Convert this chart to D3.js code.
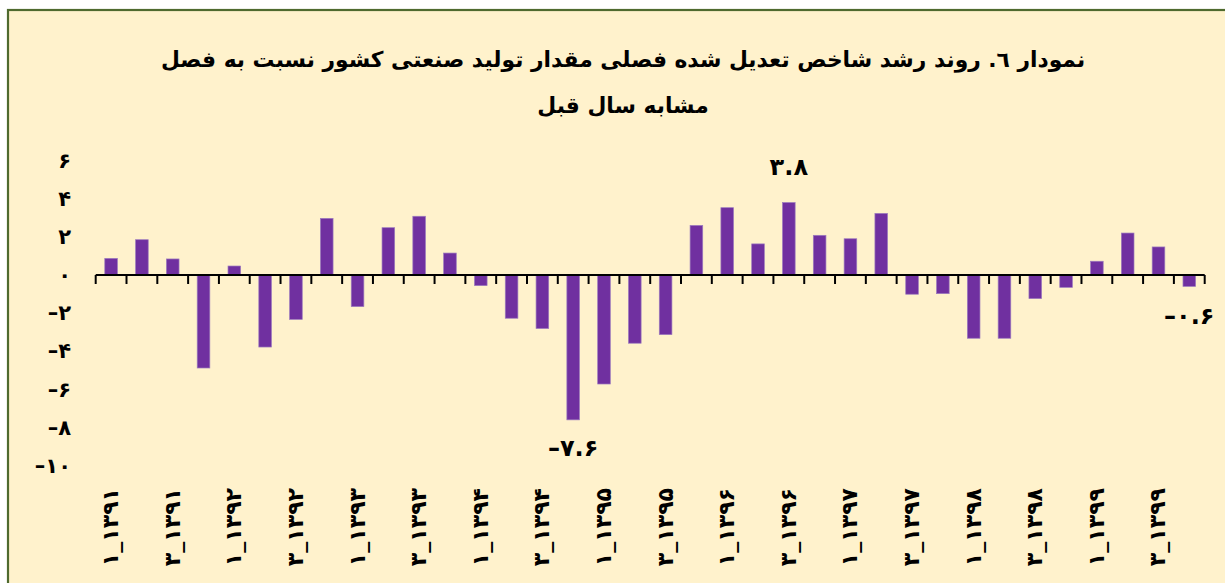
<!DOCTYPE html>
<html><head><meta charset="utf-8">
<script src="https://cdn.jsdelivr.net/npm/d3@7"></script>
<style>
html,body{margin:0;padding:0;background:#fff;}
svg{display:block;}
</style></head>
<body>
<svg id="chart" width="1225" height="583"></svg>
<script>
// ---- data ----
const years = ["1391","1392","1393","1394","1395","1396","1397","1398","1399"];
const quarters = ["1","2","3","4"];
const categories = years.flatMap(y => quarters.map(q => q + "_" + y));
const values = [
  0.87, 1.85, 0.84, -4.88,
  0.47, -3.78, -2.33, 2.97,
  -1.66, 2.48, 3.08, 1.15,
  -0.56, -2.27, -2.81, -7.6,
  -5.72, -3.58, -3.13, 2.6,
  3.53, 1.63, 3.8, 2.08,
  1.9, 3.23, -1.01, -0.98,
  -3.32, -3.32, -1.24, -0.65,
  0.72, 2.2, 1.47, -0.6
];
const yTicks = [6, 4, 2, 0, -2, -4, -6, -8, -10];
const labeledIdx = [15, 22, 35];
const titleLines = [
  "نمودار ٦. روند رشد شاخص تعدیل شده فصلی مقدار تولید صنعتی کشور نسبت به فصل",
  "مشابه سال قبل"
];

// ---- helpers ----
const fa = s => String(s).replace(/[0-9]/g, d => "۰۱۲۳۴۵۶۷۸۹"[+d]).replace(/-/g, "\u2013");
const svg = d3.select("#chart");
const FONT = "'DejaVu Sans', sans-serif";

// frame
svg.append("rect").attr("x", 0).attr("y", 0).attr("width", 1225).attr("height", 583).attr("fill", "#ffffff");
svg.append("rect").attr("x", 8).attr("y", 10).attr("width", 1240).attr("height", 600)
  .attr("fill", "#FFF2CC").attr("stroke", "#4F6A2E").attr("stroke-width", 2.2);

// scales
const x = d3.scaleBand().domain(categories).range([95.7, 1204.7]).paddingInner(0).paddingOuter(0);
const y = d3.scaleLinear().domain([-10, 6]).range([465.6, 160.6]);
const barW = x.bandwidth() * 0.41;

// title
const tg = svg.append("g");
const tys = [67, 113];
titleLines.forEach((t, i) => {
  tg.append("text").attr("class", "title")
    .attr("x", 623).attr("y", tys[i])
    .attr("text-anchor", "middle").attr("direction", "rtl")
    .style("font-family", FONT).style("font-weight", "bold").style("font-size", "22px")
    .attr("fill", "#000").text(t);
});
// fit first line width to ~925px
const t0 = tg.select("text").node();
const w0 = t0.getComputedTextLength();
const fs = Math.max(14, Math.min(28, 22 * 925 / w0));
tg.selectAll("text").style("font-size", fs + "px");

// y axis labels
const yAxis = d3.axisLeft(y).tickValues(yTicks).tickSize(0).tickPadding(25).tickFormat(d => fa(d));
const ya = svg.append("g").attr("transform", "translate(96,0)").call(yAxis);
ya.select(".domain").remove();
ya.selectAll("text").style("font-family", FONT).style("font-weight", "bold")
  .style("font-size", "21px").attr("fill", "#000").attr("direction", "ltr");

// bars
svg.append("g").selectAll("rect").data(values).join("rect")
  .attr("x", (d, i) => x(categories[i]) + (x.bandwidth() - barW) / 2)
  .attr("width", barW)
  .attr("y", d => y(Math.max(0, d)))
  .attr("height", d => Math.abs(y(d) - y(0)))
  .attr("fill", "#7030A0")
  .attr("stroke", "#9C7BBE").attr("stroke-width", 0.7);

// x axis line & ticks
const ax = svg.append("g");
ax.append("line").attr("x1", x.range()[0]).attr("x2", x.range()[1])
  .attr("y1", y(0)).attr("y2", y(0)).attr("stroke", "#000").attr("stroke-width", 2);
const bounds = categories.map(c => x(c)).concat([x.range()[1]]);
ax.selectAll("line.tick").data(bounds).join("line").attr("class", "tick")
  .attr("x1", d => d).attr("x2", d => d)
  .attr("y1", y(0)).attr("y2", y(0) + 9)
  .attr("stroke", "#000").attr("stroke-width", 2);

// x labels (every other category), rotated
svg.append("g").selectAll("text").data(categories.filter((c, i) => i % 2 === 0)).join("text")
  .attr("transform", d => `translate(${x(d) + x.bandwidth() / 2 + 7},488) rotate(-90)`)
  .attr("text-anchor", "end").attr("direction", "ltr")
  .style("font-family", FONT).style("font-weight", "bold").style("font-size", "22px")
  .attr("fill", "#000").text(d => fa(d));

// data labels
const offs = {15: 36, 22: -28, 35: 38};
svg.append("g").selectAll("text").data(labeledIdx).join("text")
  .attr("x", i => x(categories[i]) + x.bandwidth() / 2)
  .attr("y", i => y(values[i]) + offs[i])
  .attr("text-anchor", "middle").attr("direction", "ltr")
  .style("font-family", FONT).style("font-weight", "bold").style("font-size", "24px")
  .attr("fill", "#000").text(i => fa(values[i].toFixed(1)));
</script>
</body></html>
